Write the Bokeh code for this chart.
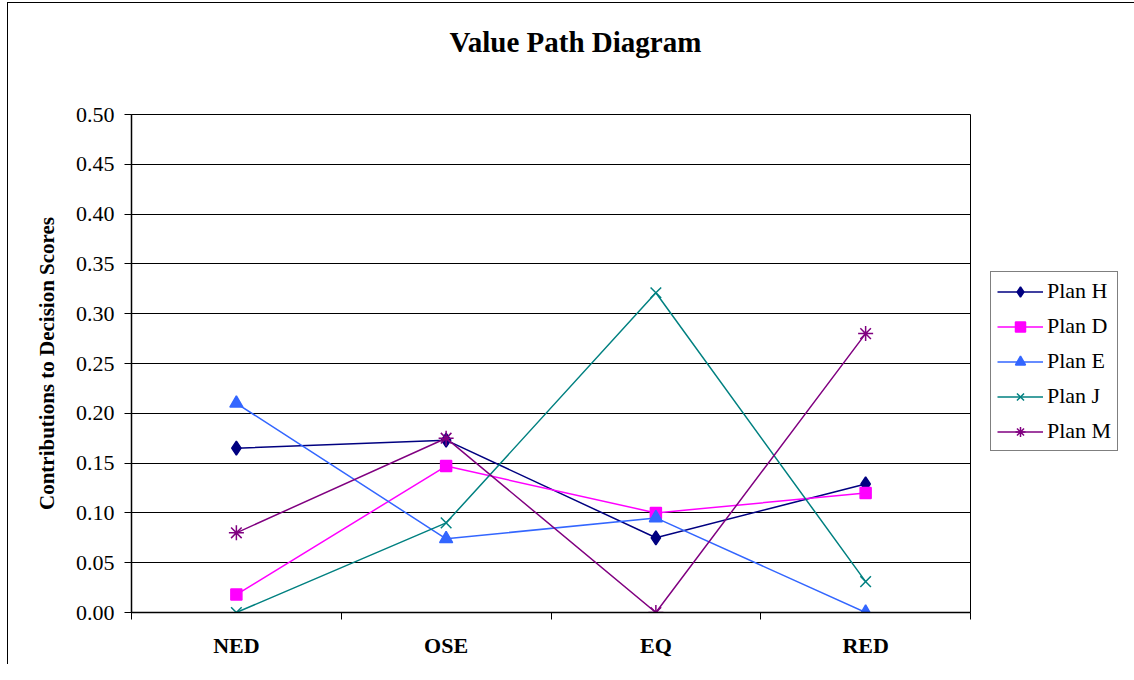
from bokeh.plotting import figure
from bokeh.models import (Range1d, FixedTicker, Legend, LegendItem, Title,
                          NumeralTickFormatter)
from bokeh.embed import file_html
from bokeh.resources import INLINE

categories = ["NED", "OSE", "EQ", "RED"]
plan_h = [0.165, 0.173, 0.075, 0.129]
plan_d = [0.018, 0.147, 0.100, 0.120]
plan_e = [0.210, 0.074, 0.095, 0.000]
plan_j = [0.000, 0.090, 0.321, 0.031]
plan_m = [0.080, 0.175, 0.000, 0.280]
series_names = ["Plan H", "Plan D", "Plan E", "Plan J", "Plan M"]
y_ticks = [i * 0.05 for i in range(11)]

FONT = "Liberation Serif"
xs = [i + 0.5 for i in range(len(categories))]

p = figure(frame_width=839, frame_height=498, output_backend="svg",
           toolbar_location=None, title=None,
           x_range=Range1d(0, len(categories)), y_range=Range1d(0, 0.5),
           min_border_left=123, min_border_right=148, min_border_top=111,
           min_border_bottom=52)
p.styles = {"margin-left": "7px", "margin-top": "2px",
            "border-left": "1px solid #000", "border-top": "1px solid #000"}

p.outline_line_color = "black"
p.outline_line_width = 1
p.background_fill_color = "white"
p.border_fill_color = "white"

# y axis
p.yaxis.ticker = FixedTicker(ticks=y_ticks)
p.yaxis.formatter = NumeralTickFormatter(format="0.00")
p.yaxis.major_label_text_font = FONT
p.yaxis.major_label_text_font_size = "22px"
p.yaxis.major_label_text_color = "black"
p.yaxis.major_tick_in = 0
p.yaxis.major_tick_out = 7
p.yaxis.major_tick_line_color = "black"
p.yaxis.minor_tick_line_color = None
p.yaxis.axis_line_color = "black"
p.yaxis.axis_line_width = 1.5
p.yaxis.major_label_standoff = 10
p.yaxis.axis_label = "Contributions to Decision Scores"
p.yaxis.axis_label_text_font = FONT
p.yaxis.axis_label_text_font_style = "bold"
p.yaxis.axis_label_text_font_size = "21px"
p.yaxis.axis_label_text_color = "black"
p.yaxis.axis_label_standoff = 14

# x axis: labels at category centres, ticks at boundaries
p.xaxis.ticker = FixedTicker(ticks=xs, minor_ticks=list(range(len(categories) + 1)))
p.xaxis.major_label_overrides = {x: c for x, c in zip(xs, categories)}
p.xaxis.major_tick_line_color = None
p.xaxis.major_tick_out = 0
p.xaxis.major_tick_in = 0
p.xaxis.minor_tick_line_color = "black"
p.xaxis.minor_tick_out = 7
p.xaxis.minor_tick_in = 0
p.xaxis.axis_line_color = "black"
p.xaxis.axis_line_width = 1.5
p.xaxis.major_label_text_font = FONT
p.xaxis.major_label_text_font_style = "bold"
p.xaxis.major_label_text_font_size = "22px"
p.xaxis.major_label_text_color = "black"
p.xaxis.major_label_standoff = 13

p.xgrid.grid_line_color = None
p.ygrid.ticker = FixedTicker(ticks=y_ticks)
p.ygrid.grid_line_color = "black"
p.ygrid.grid_line_width = 1

# spacer (closest to frame) then the real title above it
spacer = Title(text=" ", text_font=FONT, text_font_size="10px", standoff=44)
p.add_layout(spacer, "above")
title = Title(text="Value Path Diagram", text_font=FONT, text_font_style="bold",
              text_font_size="29px", text_color="black", align="left",
              offset=318, standoff=0)
p.add_layout(title, "above")

specs = [
    (plan_h, "#000080", "diamond", 14),
    (plan_d, "#FF00FF", "square", 11),
    (plan_e, "#3366FF", "triangle", 13),
    (plan_j, "#008080", "x", 15),
    (plan_m, "#800080", "asterisk", 15),
]
items = []
for name, (vals, col, mk, sz) in zip(series_names, specs):
    r1 = p.line(xs, vals, line_color=col, line_width=1.5)
    r2 = p.scatter(xs, vals, marker=mk, size=sz, fill_color=col, line_color=col,
                   line_width=1.5)
    items.append(LegendItem(label=name, renderers=[r1, r2]))

legend = Legend(items=items, location=(20, 161), orientation="vertical",
                label_text_font=FONT, label_text_font_size="22px",
                label_text_color="black", glyph_width=46, glyph_height=25,
                label_height=25, spacing=9, padding=6, margin=0,
                label_standoff=4, border_line_color="black", border_line_width=1,
                background_fill_color="white", background_fill_alpha=1)
p.add_layout(legend, "right")

open("out.html", "w").write(file_html(p, INLINE))
